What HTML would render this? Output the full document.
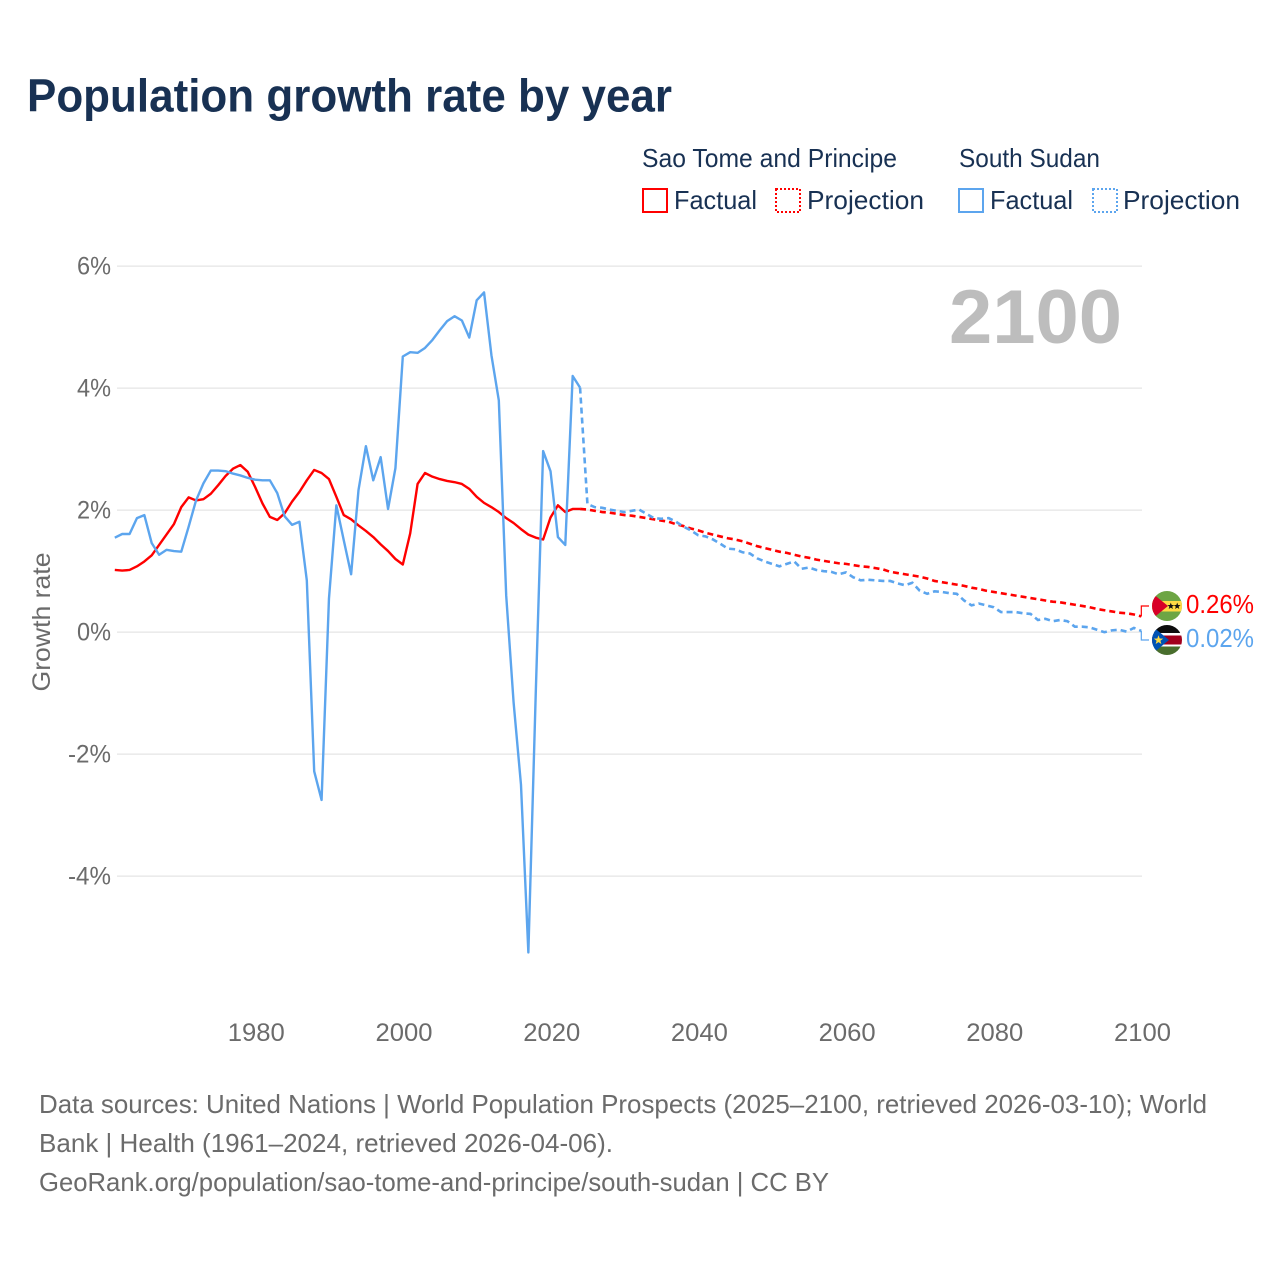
<!DOCTYPE html>
<html lang="en">
<head>
<meta charset="utf-8">
<title>Population growth rate by year</title>
<style>
  html, body { margin: 0; padding: 0; background: #ffffff; }
  svg { display: block; font-family: "Liberation Sans", sans-serif; }
</style>
</head>
<body>
<svg id="chart" xmlns="http://www.w3.org/2000/svg" width="1280" height="1280" viewBox="0 0 1280 1280">
  <rect x="0" y="0" width="1280" height="1280" fill="#ffffff"/>
  <text x="27" y="111.5" font-size="46" font-weight="700" fill="#183153" textLength="645" lengthAdjust="spacingAndGlyphs">Population growth rate by year</text>

  <g font-size="26" fill="#183153">
    <text x="642" y="167" textLength="255" lengthAdjust="spacingAndGlyphs">Sao Tome and Principe</text>
    <text x="959" y="167" textLength="141" lengthAdjust="spacingAndGlyphs">South Sudan</text>
    <rect x="643" y="189" width="24" height="23" fill="none" stroke="#ff0000" stroke-width="2"/>
    <text x="674" y="209" textLength="83" lengthAdjust="spacingAndGlyphs">Factual</text>
    <rect x="776" y="189" width="24" height="23" fill="none" stroke="#ff0000" stroke-width="2" stroke-dasharray="2 2"/>
    <text x="807" y="209" textLength="117" lengthAdjust="spacingAndGlyphs">Projection</text>
    <rect x="959" y="189" width="24" height="23" fill="none" stroke="#5ca5ee" stroke-width="2"/>
    <text x="990" y="209" textLength="83" lengthAdjust="spacingAndGlyphs">Factual</text>
    <rect x="1093" y="189" width="24" height="23" fill="none" stroke="#5ca5ee" stroke-width="2" stroke-dasharray="2 2"/>
    <text x="1123" y="209" textLength="117" lengthAdjust="spacingAndGlyphs">Projection</text>
  </g>

  <g id="grid"></g>
  <g id="y-ticks" font-size="25" fill="#6b6b6b"></g>
  <g id="x-ticks" font-size="25" fill="#6b6b6b"></g>

  <text transform="translate(50,622) rotate(-90)" text-anchor="middle" font-size="25" fill="#6b6b6b" textLength="139" lengthAdjust="spacingAndGlyphs">Growth rate</text>

  <text x="949" y="343" font-size="76" font-weight="700" fill="#bdbdbd" textLength="173" lengthAdjust="spacingAndGlyphs">2100</text>

  <g id="series"></g>

  <defs>
    <clipPath id="clip-st"><circle cx="1167" cy="606" r="15"/></clipPath>
    <clipPath id="clip-ss"><circle cx="1167" cy="640" r="15"/></clipPath>
  </defs>

  <g clip-path="url(#clip-st)">
    <rect x="1152" y="591" width="30" height="30" fill="#6da544"/>
    <rect x="1152" y="601" width="30" height="10.5" fill="#ffda44"/>
    <polygon points="1152,593 1168,606 1152,619" fill="#d80027"/>
    <polygon points="1170.8,602.6 1171.7,605 1174.2,605.1 1172.2,606.6 1172.9,609 1170.8,607.6 1168.7,609 1169.4,606.6 1167.4,605.1 1169.9,605" fill="#111111"/>
    <polygon points="1177.2,602.6 1178.1,605 1180.6,605.1 1178.6,606.6 1179.3,609 1177.2,607.6 1175.1,609 1175.8,606.6 1173.8,605.1 1176.3,605" fill="#111111"/>
  </g>

  <g clip-path="url(#clip-ss)">
    <rect x="1152" y="625" width="30" height="30" fill="#ffffff"/>
    <rect x="1152" y="625" width="30" height="8" fill="#0d0d0d"/>
    <rect x="1152" y="635.5" width="30" height="9" fill="#a2001d"/>
    <rect x="1152" y="646.5" width="30" height="9" fill="#496e2d"/>
    <polygon points="1152,626 1169,640 1152,654" fill="#0052b4"/>
    <polygon points="1158.5,635.2 1159.7,638.5 1163.2,638.6 1160.4,640.7 1161.4,644 1158.5,642.1 1155.6,644 1156.6,640.7 1153.8,638.6 1157.3,638.5" fill="#ffda44"/>
  </g>

  <g id="end-labels" font-size="26"></g>

  <g font-size="26" fill="#6b6b6b">
    <text x="39" y="1113" textLength="1168" lengthAdjust="spacingAndGlyphs">Data sources: United Nations | World Population Prospects (2025–2100, retrieved 2026-03-10); World</text>
    <text x="39" y="1152" textLength="574" lengthAdjust="spacingAndGlyphs">Bank | Health (1961–2024, retrieved 2026-04-06).</text>
    <text x="39" y="1191" textLength="790" lengthAdjust="spacingAndGlyphs">GeoRank.org/population/sao-tome-and-principe/south-sudan | CC BY</text>
  </g>
</svg>

<script>
const factualStartYear = 1961;
const projectionStartYear = 2024;

const saoTomeFactual = [
  1.02,1.01,1.02,1.08,1.16,1.26,1.43,1.60,1.77,2.05,
  2.21,2.16,2.18,2.27,2.41,2.56,2.68,2.74,2.63,2.38,
  2.11,1.89,1.84,1.95,2.14,2.30,2.49,2.66,2.61,2.51,
  2.22,1.92,1.85,1.75,1.66,1.56,1.44,1.33,1.20,1.11,
  1.62,2.43,2.61,2.55,2.51,2.48,2.46,2.43,2.35,2.22,
  2.12,2.05,1.97,1.87,1.79,1.69,1.60,1.55,1.52,1.88,
  2.08,1.97,2.02,2.02
];

const southSudanFactual = [
  1.55,1.61,1.61,1.87,1.92,1.46,1.27,1.35,1.33,1.32,
  1.73,2.16,2.44,2.65,2.65,2.64,2.60,2.57,2.53,2.50,
  2.49,2.49,2.28,1.90,1.76,1.81,0.85,-2.28,-2.75,0.55,
  2.08,1.51,0.95,2.33,3.05,2.49,2.87,2.02,2.69,4.52,
  4.59,4.58,4.66,4.79,4.95,5.10,5.18,5.11,4.83,5.44,
  5.57,4.54,3.80,0.60,-1.15,-2.50,-5.25,-1.00,2.97,2.64,
  1.56,1.43,4.20,4.01
];

const saoTomeProjection = [
  2.02,
  2.01,1.99,1.97,1.96,1.94,1.92,1.91,1.89,1.87,1.85,
  1.83,1.81,1.77,1.74,1.70,1.67,1.63,1.60,1.57,1.54,
  1.52,1.49,1.45,1.41,1.38,1.35,1.32,1.30,1.27,1.24,
  1.22,1.19,1.17,1.15,1.13,1.12,1.10,1.08,1.07,1.05,
  1.03,0.99,0.97,0.95,0.93,0.91,0.88,0.84,0.82,0.80,
  0.78,0.76,0.73,0.71,0.68,0.66,0.64,0.62,0.60,0.58,
  0.56,0.54,0.52,0.50,0.49,0.47,0.45,0.43,0.41,0.38,
  0.36,0.34,0.32,0.31,0.29,0.26
];

const southSudanProjection = [
  4.01,
  2.10,2.05,2.04,2.01,1.99,1.97,1.99,2.01,1.94,1.87,
  1.86,1.87,1.81,1.73,1.67,1.59,1.57,1.52,1.45,1.37,
  1.36,1.31,1.29,1.21,1.16,1.12,1.08,1.12,1.16,1.04,
  1.06,1.02,1.00,0.99,0.95,0.98,0.90,0.85,0.86,0.85,
  0.84,0.84,0.80,0.77,0.81,0.68,0.63,0.67,0.66,0.64,
  0.63,0.52,0.44,0.47,0.44,0.41,0.33,0.33,0.33,0.31,
  0.30,0.20,0.22,0.18,0.20,0.18,0.09,0.09,0.08,0.04,
  0.00,0.03,0.04,0.01,0.07,0.02
];

const xTickYears = [1980, 2000, 2020, 2040, 2060, 2080, 2100];
const yTickValues = [6, 4, 2, 0, -2, -4];
const endLabelTexts = ['0.26%', '0.02%'];

const svgNS = 'http://www.w3.org/2000/svg';
const RED = '#ff0000';
const BLUE = '#5ca5ee';

function xScale(year) { return 114.8 + (year - 1961) * 7.385; }
function yScale(value) { return 632.2 - value * 61; }
function tickX(year) { return 115.7 + (year - 1961) * 7.385; }
function make(tag, attrs) {
  const el = document.createElementNS(svgNS, tag);
  for (const k in attrs) el.setAttribute(k, attrs[k]);
  return el;
}
function pathFrom(startYear, values) {
  return values.map(function (v, i) {
    return (i ? 'L' : 'M') + xScale(startYear + i).toFixed(2) + ' ' + yScale(v).toFixed(2);
  }).join(' ');
}

const gridGroup = document.getElementById('grid');
const yTickGroup = document.getElementById('y-ticks');
yTickValues.forEach(function (v) {
  const line = make('line', { x1: 117, x2: 1142, y1: yScale(v), y2: yScale(v), stroke: '#ebebeb', 'stroke-width': 1.6 });
  
  
  gridGroup.appendChild(line);
  const label = make('text', { x: 111, y: yScale(v) + 8.5, 'text-anchor': 'end', textLength: v < 0 ? 43 : 34, lengthAdjust: 'spacingAndGlyphs' });
  
  
  label.textContent = v + '%';
  yTickGroup.appendChild(label);
});

const xTickGroup = document.getElementById('x-ticks');
xTickYears.forEach(function (year) {
  const label = make('text', { x: tickX(year) + 0.3, y: 1041, 'text-anchor': 'middle', textLength: 57, lengthAdjust: 'spacingAndGlyphs' });
  
  
  label.textContent = year;
  xTickGroup.appendChild(label);
});

const seriesGroup = document.getElementById('series');

const redProjectionPath = make('path', { d: pathFrom(projectionStartYear, saoTomeProjection), fill: 'none', stroke: RED, 'stroke-width': 2.6, 'stroke-dasharray': '6 4' });


seriesGroup.appendChild(redProjectionPath);

const redFactualPath = make('path', { d: pathFrom(factualStartYear, saoTomeFactual), fill: 'none', stroke: RED, 'stroke-width': 2.4, 'stroke-linejoin': 'round' });


seriesGroup.appendChild(redFactualPath);

const blueProjectionPath = make('path', { d: pathFrom(projectionStartYear, southSudanProjection), fill: 'none', stroke: BLUE, 'stroke-width': 2.6, 'stroke-dasharray': '6 4' });


seriesGroup.appendChild(blueProjectionPath);

const blueFactualPath = make('path', { d: pathFrom(factualStartYear, southSudanFactual), fill: 'none', stroke: BLUE, 'stroke-width': 2.4, 'stroke-linejoin': 'round' });


seriesGroup.appendChild(blueFactualPath);

const lastYearX = xScale(projectionStartYear + saoTomeProjection.length - 1);
const redEndY = yScale(saoTomeProjection[saoTomeProjection.length - 1]);
const blueEndY = yScale(southSudanProjection[southSudanProjection.length - 1]);

const redConnector = make('path', { d: 'M' + lastYearX + ' ' + redEndY + ' V606 H1149', fill: 'none', stroke: RED, 'stroke-width': 1.2 });


seriesGroup.appendChild(redConnector);

const blueConnector = make('path', { d: 'M' + lastYearX + ' ' + blueEndY + ' V640 H1149', fill: 'none', stroke: BLUE, 'stroke-width': 1.2 });


seriesGroup.appendChild(blueConnector);

const endGroup = document.getElementById('end-labels');
const redEndLabel = make('text', { x: 1186, y: 613, fill: RED, textLength: 68, lengthAdjust: 'spacingAndGlyphs' });


redEndLabel.textContent = endLabelTexts[0];
endGroup.appendChild(redEndLabel);

const blueEndLabel = make('text', { x: 1186, y: 647, fill: BLUE, textLength: 68, lengthAdjust: 'spacingAndGlyphs' });


blueEndLabel.textContent = endLabelTexts[1];
endGroup.appendChild(blueEndLabel);
</script>
</body>
</html>
